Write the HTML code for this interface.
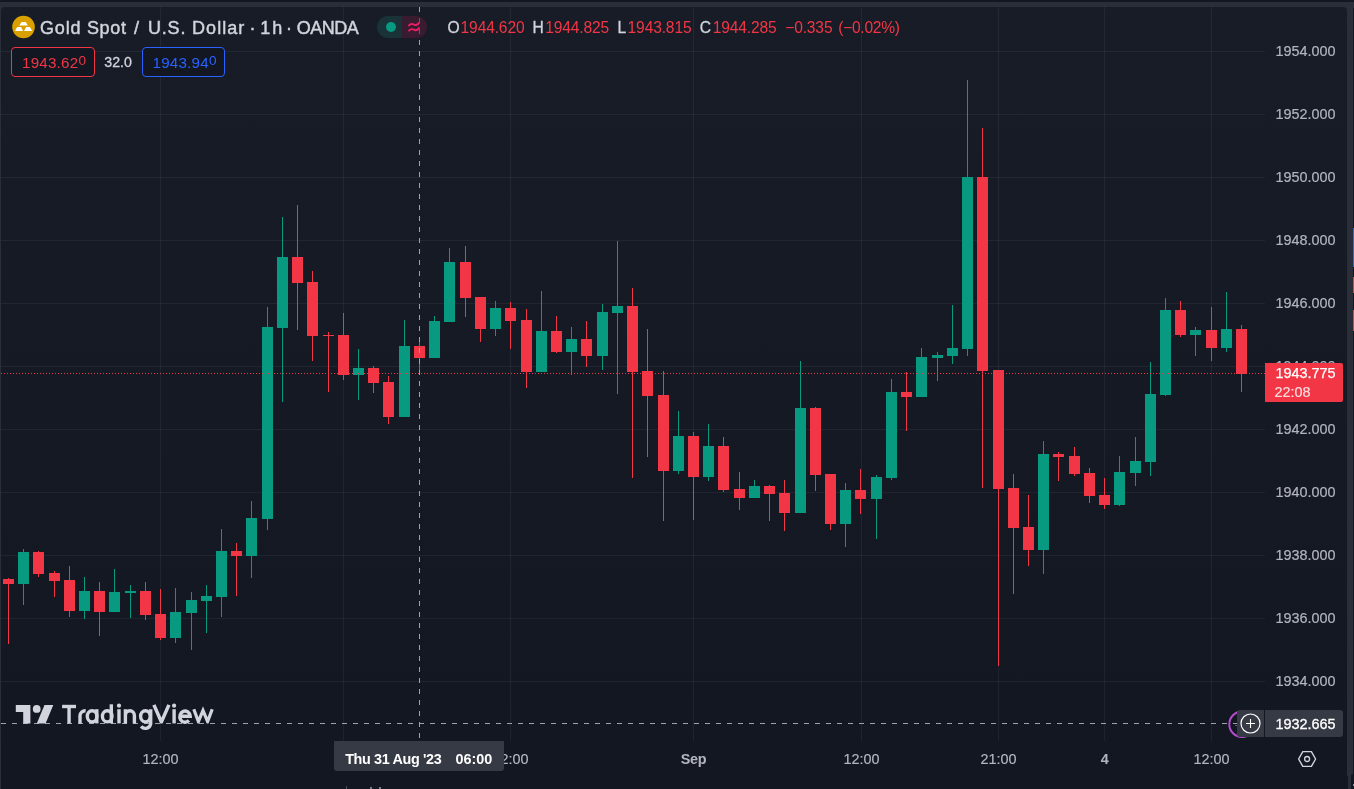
<!DOCTYPE html>
<html><head><meta charset="utf-8"><title>XAUUSD</title>
<style>
html,body{margin:0;padding:0}
body{width:1354px;height:789px;overflow:hidden;position:relative;background:#2a2e39;font-family:"Liberation Sans",sans-serif;}
.abs{position:absolute}
#txt{position:absolute;left:0;top:0;width:1354px;height:789px;will-change:transform}
#topdark{left:0;top:0;width:1354px;height:2px;background:#131722}
#panel{left:1px;top:7px;width:1346px;height:790px;border-radius:4px 4px 0 0;background:linear-gradient(#181c27 0px,#131722 734px,#131722 100%);}
#rightcol{left:1353px;top:8px;width:1px;height:781px;background:#131722}
svg#chart{position:absolute;left:0;top:0;width:1354px;height:789px}
.pl{position:absolute;left:1275.6px;width:70px;height:18px;line-height:18px;font-size:14.4px;color:#b2b5be;white-space:nowrap;-webkit-text-stroke:0.2px #b2b5be}
.tl{position:absolute;top:749.6px;width:81px;height:18px;line-height:18px;text-align:center;font-size:14.4px;color:#b2b5be;white-space:nowrap;-webkit-text-stroke:0.2px #b2b5be}
.tl.b{font-weight:bold;-webkit-text-stroke:0;letter-spacing:-0.3px}

#title{position:absolute;left:0;top:0}
.tw{position:absolute;top:16.2px;height:24px;line-height:24px;font-size:18px;color:#d1d4dc;white-space:nowrap;-webkit-text-stroke:0.45px #d1d4dc}
#pillL{left:377px;top:16px;width:25px;height:22px;border-radius:11px 0 0 11px;background:linear-gradient(rgba(34,171,148,0.16),rgba(34,171,148,0.16)),rgba(24,28,39,0.5)}
#pillR{left:402px;top:16px;width:25px;height:22px;border-radius:0 11px 11px 0;background:linear-gradient(rgba(233,30,99,0.16),rgba(233,30,99,0.16)),rgba(24,28,39,0.5)}
#dot{left:386px;top:22px;width:10px;height:10px;border-radius:5px;background:#089981}
#ohlc span{position:absolute;top:18.4px;height:20px;line-height:20px;font-size:15.6px;letter-spacing:-0.15px;white-space:nowrap}
#ohlc .k{color:#d1d4dc;-webkit-text-stroke:0.3px #d1d4dc}
#ohlc .v{color:#f23645}
.box{width:82px;height:28px;box-sizing:content-box;border:1px solid;border-radius:4px;background:#131722;}
.bt{position:absolute;top:4.8px;height:20px;line-height:20px;font-size:15.2px;letter-spacing:0.2px;white-space:nowrap}
.bt sup{font-size:13.6px;vertical-align:baseline;position:relative;top:-2.6px;letter-spacing:0;margin-left:0.3px}
#spread{left:104.3px;top:52px;width:30px;height:20px;line-height:20px;font-size:14.2px;color:#d1d4dc;white-space:nowrap;-webkit-text-stroke:0.3px #d1d4dc}

#curp{left:1265px;top:363px;width:78px;height:39px;background:#f23645;border-radius:0 2px 2px 0;color:#fff;font-size:14.4px;white-space:nowrap}
#curp .l1{position:absolute;left:10.4px;top:1.4px;height:18px;line-height:18px;-webkit-text-stroke:0.25px #fff}
#curp .l2{position:absolute;left:9.6px;top:19.6px;height:18px;line-height:18px;color:rgba(255,255,255,0.82);-webkit-text-stroke:0.15px rgba(255,255,255,0.8)}
#plusb{left:1237px;top:710px;width:27px;height:27px;background:#363a45;border-radius:3px 0 0 3px}
#chp{left:1265px;top:710px;width:78px;height:27px;background:#363a45;border-radius:0 3px 3px 0;color:#fff;font-size:14.4px;white-space:nowrap}
#chp span{position:absolute;left:10.6px;top:4.6px;height:18px;line-height:18px;-webkit-text-stroke:0.3px #fff}
#tlab{left:334px;top:741px;width:170px;height:30px;background:#363a45;border-radius:0 0 3px 3px;color:#fff;font-size:14.4px;font-weight:bold;white-space:nowrap}
#tlab span{position:absolute;top:8.6px;height:18px;line-height:18px}
#tlab .d{left:11.2px;letter-spacing:-0.36px}
#tlab .t{left:121.5px}
</style></head><body>
<div class="abs" id="topdark"></div>
<div class="abs" id="panel"></div>
<div class="abs" id="rightcol"></div>
<div id="txt">
<svg id="chart" viewBox="0 0 1354 789" shape-rendering="crispEdges">
<rect x="1" y="51" width="1264" height="1" fill="rgba(240,243,250,0.06)"/>
<rect x="1" y="114" width="1264" height="1" fill="rgba(240,243,250,0.06)"/>
<rect x="1" y="177" width="1264" height="1" fill="rgba(240,243,250,0.06)"/>
<rect x="1" y="240" width="1264" height="1" fill="rgba(240,243,250,0.06)"/>
<rect x="1" y="303" width="1264" height="1" fill="rgba(240,243,250,0.06)"/>
<rect x="1" y="366" width="1264" height="1" fill="rgba(240,243,250,0.06)"/>
<rect x="1" y="429" width="1264" height="1" fill="rgba(240,243,250,0.06)"/>
<rect x="1" y="492" width="1264" height="1" fill="rgba(240,243,250,0.06)"/>
<rect x="1" y="555" width="1264" height="1" fill="rgba(240,243,250,0.06)"/>
<rect x="1" y="618" width="1264" height="1" fill="rgba(240,243,250,0.06)"/>
<rect x="1" y="681" width="1264" height="1" fill="rgba(240,243,250,0.06)"/>
<rect x="160" y="7" width="1" height="734" fill="rgba(240,243,250,0.06)"/>
<rect x="343" y="7" width="1" height="734" fill="rgba(240,243,250,0.06)"/>
<rect x="510" y="7" width="1" height="734" fill="rgba(240,243,250,0.06)"/>
<rect x="693" y="7" width="1" height="734" fill="rgba(240,243,250,0.06)"/>
<rect x="861" y="7" width="1" height="734" fill="rgba(240,243,250,0.06)"/>
<rect x="998" y="7" width="1" height="734" fill="rgba(240,243,250,0.06)"/>
<rect x="1104" y="7" width="1" height="734" fill="rgba(240,243,250,0.06)"/>
<rect x="1211" y="7" width="1" height="734" fill="rgba(240,243,250,0.06)"/>
<rect x="8" y="578" width="1" height="66" fill="#f23645"/>
<rect x="3" y="579" width="11" height="5" fill="#f23645"/>
<rect x="23" y="549" width="1" height="56" fill="#089981"/>
<rect x="18" y="552" width="11" height="32" fill="#089981"/>
<rect x="38" y="551" width="1" height="26" fill="#f23645"/>
<rect x="33" y="552" width="11" height="22" fill="#f23645"/>
<rect x="54" y="571" width="1" height="26" fill="#f23645"/>
<rect x="49" y="573" width="11" height="8" fill="#f23645"/>
<rect x="69" y="566" width="1" height="51" fill="#f23645"/>
<rect x="64" y="580" width="11" height="31" fill="#f23645"/>
<rect x="84" y="577" width="1" height="42" fill="#089981"/>
<rect x="79" y="591" width="11" height="20" fill="#089981"/>
<rect x="99" y="582" width="1" height="54" fill="#f23645"/>
<rect x="94" y="591" width="11" height="21" fill="#f23645"/>
<rect x="114" y="569" width="1" height="43" fill="#089981"/>
<rect x="109" y="592" width="11" height="20" fill="#089981"/>
<rect x="130" y="585" width="1" height="33" fill="#089981"/>
<rect x="125" y="591" width="11" height="2" fill="#089981"/>
<rect x="145" y="582" width="1" height="38" fill="#f23645"/>
<rect x="140" y="591" width="11" height="24" fill="#f23645"/>
<rect x="160" y="589" width="1" height="51" fill="#f23645"/>
<rect x="155" y="614" width="11" height="24" fill="#f23645"/>
<rect x="175" y="588" width="1" height="55" fill="#089981"/>
<rect x="170" y="612" width="11" height="26" fill="#089981"/>
<rect x="191" y="592" width="1" height="58" fill="#089981"/>
<rect x="186" y="600" width="11" height="13" fill="#089981"/>
<rect x="206" y="585" width="1" height="48" fill="#089981"/>
<rect x="201" y="596" width="11" height="5" fill="#089981"/>
<rect x="221" y="529" width="1" height="88" fill="#089981"/>
<rect x="216" y="551" width="11" height="46" fill="#089981"/>
<rect x="236" y="543" width="1" height="53" fill="#f23645"/>
<rect x="231" y="551" width="11" height="5" fill="#f23645"/>
<rect x="251" y="501" width="1" height="77" fill="#089981"/>
<rect x="246" y="518" width="11" height="38" fill="#089981"/>
<rect x="267" y="307" width="1" height="223" fill="#089981"/>
<rect x="262" y="327" width="11" height="192" fill="#089981"/>
<rect x="282" y="217" width="1" height="185" fill="#089981"/>
<rect x="277" y="257" width="11" height="71" fill="#089981"/>
<rect x="297" y="205" width="1" height="125" fill="#f23645"/>
<rect x="292" y="257" width="11" height="26" fill="#f23645"/>
<rect x="312" y="271" width="1" height="90" fill="#f23645"/>
<rect x="307" y="282" width="11" height="54" fill="#f23645"/>
<rect x="328" y="332" width="1" height="60" fill="#f23645"/>
<rect x="323" y="335" width="11" height="1" fill="#f23645"/>
<rect x="343" y="313" width="1" height="67" fill="#f23645"/>
<rect x="338" y="335" width="11" height="40" fill="#f23645"/>
<rect x="358" y="349" width="1" height="51" fill="#089981"/>
<rect x="353" y="368" width="11" height="7" fill="#089981"/>
<rect x="373" y="366" width="1" height="27" fill="#f23645"/>
<rect x="368" y="368" width="11" height="15" fill="#f23645"/>
<rect x="388" y="376" width="1" height="48" fill="#f23645"/>
<rect x="383" y="382" width="11" height="35" fill="#f23645"/>
<rect x="404" y="320" width="1" height="97" fill="#089981"/>
<rect x="399" y="346" width="11" height="71" fill="#089981"/>
<rect x="419" y="342" width="1" height="33" fill="#f23645"/>
<rect x="414" y="346" width="11" height="12" fill="#f23645"/>
<rect x="434" y="316" width="1" height="42" fill="#089981"/>
<rect x="429" y="321" width="11" height="37" fill="#089981"/>
<rect x="449" y="248" width="1" height="74" fill="#089981"/>
<rect x="444" y="262" width="11" height="60" fill="#089981"/>
<rect x="465" y="246" width="1" height="71" fill="#f23645"/>
<rect x="460" y="262" width="11" height="36" fill="#f23645"/>
<rect x="480" y="297" width="1" height="45" fill="#f23645"/>
<rect x="475" y="297" width="11" height="32" fill="#f23645"/>
<rect x="495" y="301" width="1" height="35" fill="#089981"/>
<rect x="490" y="308" width="11" height="21" fill="#089981"/>
<rect x="510" y="302" width="1" height="47" fill="#f23645"/>
<rect x="505" y="308" width="11" height="13" fill="#f23645"/>
<rect x="526" y="309" width="1" height="79" fill="#f23645"/>
<rect x="521" y="320" width="11" height="52" fill="#f23645"/>
<rect x="541" y="291" width="1" height="81" fill="#089981"/>
<rect x="536" y="331" width="11" height="41" fill="#089981"/>
<rect x="556" y="316" width="1" height="37" fill="#f23645"/>
<rect x="551" y="331" width="11" height="21" fill="#f23645"/>
<rect x="571" y="327" width="1" height="48" fill="#089981"/>
<rect x="566" y="339" width="11" height="13" fill="#089981"/>
<rect x="586" y="321" width="1" height="46" fill="#f23645"/>
<rect x="581" y="339" width="11" height="17" fill="#f23645"/>
<rect x="602" y="304" width="1" height="66" fill="#089981"/>
<rect x="597" y="312" width="11" height="44" fill="#089981"/>
<rect x="617" y="241" width="1" height="153" fill="#089981"/>
<rect x="612" y="306" width="11" height="7" fill="#089981"/>
<rect x="632" y="288" width="1" height="190" fill="#f23645"/>
<rect x="627" y="306" width="11" height="66" fill="#f23645"/>
<rect x="647" y="329" width="1" height="128" fill="#f23645"/>
<rect x="642" y="371" width="11" height="25" fill="#f23645"/>
<rect x="663" y="371" width="1" height="150" fill="#f23645"/>
<rect x="658" y="395" width="11" height="76" fill="#f23645"/>
<rect x="678" y="411" width="1" height="63" fill="#089981"/>
<rect x="673" y="436" width="11" height="35" fill="#089981"/>
<rect x="693" y="432" width="1" height="88" fill="#f23645"/>
<rect x="688" y="436" width="11" height="41" fill="#f23645"/>
<rect x="708" y="424" width="1" height="57" fill="#089981"/>
<rect x="703" y="446" width="11" height="31" fill="#089981"/>
<rect x="723" y="437" width="1" height="55" fill="#f23645"/>
<rect x="718" y="446" width="11" height="44" fill="#f23645"/>
<rect x="739" y="472" width="1" height="38" fill="#f23645"/>
<rect x="734" y="489" width="11" height="9" fill="#f23645"/>
<rect x="754" y="480" width="1" height="18" fill="#089981"/>
<rect x="749" y="486" width="11" height="12" fill="#089981"/>
<rect x="769" y="485" width="1" height="36" fill="#f23645"/>
<rect x="764" y="486" width="11" height="8" fill="#f23645"/>
<rect x="784" y="480" width="1" height="51" fill="#f23645"/>
<rect x="779" y="493" width="11" height="20" fill="#f23645"/>
<rect x="800" y="361" width="1" height="152" fill="#089981"/>
<rect x="795" y="408" width="11" height="105" fill="#089981"/>
<rect x="815" y="407" width="1" height="84" fill="#f23645"/>
<rect x="810" y="408" width="11" height="67" fill="#f23645"/>
<rect x="830" y="474" width="1" height="56" fill="#f23645"/>
<rect x="825" y="474" width="11" height="50" fill="#f23645"/>
<rect x="845" y="483" width="1" height="64" fill="#089981"/>
<rect x="840" y="490" width="11" height="34" fill="#089981"/>
<rect x="860" y="469" width="1" height="45" fill="#f23645"/>
<rect x="855" y="490" width="11" height="9" fill="#f23645"/>
<rect x="876" y="475" width="1" height="64" fill="#089981"/>
<rect x="871" y="477" width="11" height="22" fill="#089981"/>
<rect x="891" y="379" width="1" height="101" fill="#089981"/>
<rect x="886" y="392" width="11" height="86" fill="#089981"/>
<rect x="906" y="372" width="1" height="59" fill="#f23645"/>
<rect x="901" y="392" width="11" height="5" fill="#f23645"/>
<rect x="921" y="348" width="1" height="49" fill="#089981"/>
<rect x="916" y="357" width="11" height="40" fill="#089981"/>
<rect x="937" y="352" width="1" height="29" fill="#089981"/>
<rect x="932" y="355" width="11" height="3" fill="#089981"/>
<rect x="952" y="305" width="1" height="59" fill="#089981"/>
<rect x="947" y="348" width="11" height="8" fill="#089981"/>
<rect x="967" y="80" width="1" height="276" fill="#089981"/>
<rect x="962" y="177" width="11" height="172" fill="#089981"/>
<rect x="982" y="128" width="1" height="360" fill="#f23645"/>
<rect x="977" y="177" width="11" height="194" fill="#f23645"/>
<rect x="998" y="370" width="1" height="296" fill="#f23645"/>
<rect x="993" y="370" width="11" height="119" fill="#f23645"/>
<rect x="1013" y="474" width="1" height="120" fill="#f23645"/>
<rect x="1008" y="488" width="11" height="40" fill="#f23645"/>
<rect x="1028" y="495" width="1" height="71" fill="#f23645"/>
<rect x="1023" y="527" width="11" height="23" fill="#f23645"/>
<rect x="1043" y="441" width="1" height="133" fill="#089981"/>
<rect x="1038" y="454" width="11" height="96" fill="#089981"/>
<rect x="1058" y="452" width="1" height="29" fill="#f23645"/>
<rect x="1053" y="454" width="11" height="3" fill="#f23645"/>
<rect x="1074" y="447" width="1" height="29" fill="#f23645"/>
<rect x="1069" y="456" width="11" height="18" fill="#f23645"/>
<rect x="1089" y="468" width="1" height="35" fill="#f23645"/>
<rect x="1084" y="473" width="11" height="23" fill="#f23645"/>
<rect x="1104" y="478" width="1" height="31" fill="#f23645"/>
<rect x="1099" y="495" width="11" height="10" fill="#f23645"/>
<rect x="1119" y="456" width="1" height="50" fill="#089981"/>
<rect x="1114" y="472" width="11" height="33" fill="#089981"/>
<rect x="1135" y="437" width="1" height="49" fill="#089981"/>
<rect x="1130" y="461" width="11" height="12" fill="#089981"/>
<rect x="1150" y="362" width="1" height="114" fill="#089981"/>
<rect x="1145" y="394" width="11" height="68" fill="#089981"/>
<rect x="1165" y="298" width="1" height="98" fill="#089981"/>
<rect x="1160" y="310" width="11" height="85" fill="#089981"/>
<rect x="1180" y="301" width="1" height="36" fill="#f23645"/>
<rect x="1175" y="310" width="11" height="25" fill="#f23645"/>
<rect x="1195" y="327" width="1" height="29" fill="#089981"/>
<rect x="1190" y="330" width="11" height="5" fill="#089981"/>
<rect x="1211" y="307" width="1" height="54" fill="#f23645"/>
<rect x="1206" y="330" width="11" height="18" fill="#f23645"/>
<rect x="1226" y="292" width="1" height="60" fill="#089981"/>
<rect x="1221" y="329" width="11" height="19" fill="#089981"/>
<rect x="1241" y="325" width="1" height="67" fill="#f23645"/>
<rect x="1236" y="329" width="11" height="45" fill="#f23645"/>
<line x1="1" y1="373.5" x2="1265" y2="373.5" stroke="#f23645" stroke-width="1" stroke-dasharray="1 2"/>
<line x1="419.5" y1="7" x2="419.5" y2="741" stroke="#9fa2ab" stroke-width="1" stroke-dasharray="5 6"/>
<line x1="1" y1="723.5" x2="1237" y2="723.5" stroke="#9fa2ab" stroke-width="1" stroke-dasharray="5 6"/>
</svg>
<div class="pl" style="top:42px">1954.000</div>
<div class="pl" style="top:105px">1952.000</div>
<div class="pl" style="top:168px">1950.000</div>
<div class="pl" style="top:231px">1948.000</div>
<div class="pl" style="top:294px">1946.000</div>
<div class="pl" style="top:357px">1944.000</div>
<div class="pl" style="top:420px">1942.000</div>
<div class="pl" style="top:483px">1940.000</div>
<div class="pl" style="top:546px">1938.000</div>
<div class="pl" style="top:609px">1936.000</div>
<div class="pl" style="top:672px">1934.000</div>

<div class="tl" style="left:120px">12:00</div>
<div class="tl" style="left:470px">12:00</div>
<div class="tl b" style="left:653px">Sep</div>
<div class="tl" style="left:821px">12:00</div>
<div class="tl" style="left:958px">21:00</div>
<div class="tl b" style="left:1064px">4</div>
<div class="tl" style="left:1171px">12:00</div>


<svg class="abs" style="left:11px;top:15px" width="25" height="25" viewBox="0 0 25 25">
<circle cx="12.5" cy="12" r="11.3" fill="#d9a000"/>
<path d="M10.5 7 L14.8 7 L16.8 10.6 L8.3 10.6 Z M6.2 12.1 L10 12.1 L12.1 15.9 L4 15.9 Z M15.1 12.1 L18.9 12.1 L21.2 15.9 L13.1 15.9 Z" fill="#fff"/>
</svg>
<div id="title"><span class="tw" style="left:40.0px;letter-spacing:0.83px">Gold</span><span class="tw" style="left:86.9px;letter-spacing:0.69px">Spot</span><span class="tw" style="left:133.9px;letter-spacing:0px">/</span><span class="tw" style="left:147.9px;letter-spacing:0.83px">U.S.</span><span class="tw" style="left:192.0px;letter-spacing:1.06px">Dollar</span><span class="tw" style="left:249.4px;letter-spacing:0px">·</span><span class="tw" style="left:260.2px;letter-spacing:1.99px">1h</span><span class="tw" style="left:285.9px;letter-spacing:0px">·</span><span class="tw" style="left:296.7px;letter-spacing:-0.5px">OANDA</span></div>
<div class="abs" id="pillL"></div><div class="abs" id="pillR"></div>
<div class="abs" id="dot"></div>
<svg class="abs" style="left:407px;top:21px" width="14" height="13" viewBox="0 0 14 13">
<path d="M2 4.4 C4.2 1.6 6.2 3.2 7.6 3.8 C9.2 4.4 10.6 3.9 12 1.9" stroke="#e91e63" stroke-width="1.9" fill="none" stroke-linecap="round"/>
<path d="M2 9.6 C4.2 6.8 6.2 8.4 7.6 9.0 C9.2 9.6 10.6 9.1 12 7.1" stroke="#e91e63" stroke-width="1.9" fill="none" stroke-linecap="round"/>
</svg>
<div id="ohlc">
<span class="k" style="left:447.4px">O</span><span class="v" style="left:460.6px">1944.620</span>
<span class="k" style="left:532.4px">H</span><span class="v" style="left:545.2px">1944.825</span>
<span class="k" style="left:617.4px">L</span><span class="v" style="left:627.6px">1943.815</span>
<span class="k" style="left:699.7px">C</span><span class="v" style="left:712.7px">1944.285</span>
<span class="v" style="left:785.2px">−0.335</span><span class="v" style="left:838.3px;letter-spacing:-0.3px">(−0.02%)</span>
</div>
<div class="abs box" style="left:11px;top:47px;border-color:#f23645;color:#f23645"><span class="bt" style="left:10px">1943.62<sup>0</sup></span></div>
<div class="abs" id="spread">32.0</div>
<div class="abs box" style="left:142px;top:47px;width:81px;border-color:#2962ff;color:#2962ff"><span class="bt" style="left:9.5px">1943.94<sup>0</sup></span></div>


<svg class="abs" style="left:0;top:0" width="1354" height="789" viewBox="0 0 1354 789">

<g fill="#d1d4dc">
<path d="M15.8 705 H30.4 V723.4 H23.2 V711.9 H15.8 Z"/>
<circle cx="36.7" cy="708.9" r="3.9"/>
<path d="M44.5 705 H53.3 L45.6 723.4 H36.8 Z"/>
</g>
<defs><clipPath id="bl"><rect x="0" y="700" width="300" height="23.5"/></clipPath></defs>
<g fill="none" stroke="#d1d4dc" stroke-width="3.4">
<path d="M62.1 706.5 H76"/>
<path d="M69.05 706 V723.4"/>
<path d="M80 723.4 V715.6 a5.2 5.2 0 0 1 5.6 -4.9"/>
<ellipse cx="92.1" cy="716.3" rx="4.8" ry="5.6"/>
<path d="M96.8 709.2 V723.4"/>
<ellipse cx="107.2" cy="716.3" rx="4.8" ry="5.6"/>
<path d="M111.3 704.3 V723.4"/>
<path d="M119 709.2 V723.4"/>
<path d="M125.4 709.2 V723.4 M125.4 715.6 a4.5 4.8 0 0 1 9 0 V723.4"/>
<ellipse cx="145.4" cy="716.3" rx="4.8" ry="5.6"/>
<path d="M150.7 709.2 V723.2 a5.4 5.2 0 0 1 -9.6 3.2"/>
<path d="M153.9 704.9 L161.4 722.0 L168.9 704.9" stroke-width="3.5" stroke-linejoin="miter" clip-path="url(#bl)" stroke-miterlimit="10"/>
<path d="M174.1 709.2 V723.4"/>
<path d="M180.2 716.2 H190.2 a5.2 5.6 0 1 0 -1.3 4.2"/>
<path d="M193.8 709.2 L198.4 721.6 L203 710.4 L207.6 721.6 L212.2 709.2" stroke-linejoin="miter" stroke-width="3.2" clip-path="url(#bl)" stroke-miterlimit="10"/>
</g>
<circle cx="119" cy="705.7" r="2.1" fill="#d1d4dc"/>
<circle cx="174.1" cy="705.7" r="2.1" fill="#d1d4dc"/>

<!-- purple ring -->
<circle cx="1242" cy="724.3" r="12.7" fill="none" stroke="#b84cd0" stroke-width="2"/>
<rect x="1235" y="725" width="2" height="1" fill="#8a3f9c"/>
<!-- hex settings -->
<path d="M1298.6 759 L1302.8 751.6 H1311.4 L1315.6 759 L1311.4 766.4 H1302.8 Z" fill="none" stroke="#d1d4dc" stroke-width="1.4" stroke-linejoin="round"/>
<circle cx="1307.1" cy="759" r="2.5" fill="none" stroke="#d1d4dc" stroke-width="1.3"/>
</svg>
<div class="abs" id="curp"><div class="l1">1943.775</div><div class="l2">22:08</div></div>
<div class="abs" id="plusb"></div>
<svg class="abs" style="left:1237px;top:710px" width="27" height="27" viewBox="0 0 27 27">
<circle cx="13.5" cy="13.5" r="9.5" fill="none" stroke="#fff" stroke-width="1.2"/>
<path d="M9 13.5 H18 M13.5 9 V18" stroke="#fff" stroke-width="1.1" fill="none"/>
</svg>
<div class="abs" id="chp"><span>1932.665</span></div>
<div class="abs" id="tlab"><span class="d">Thu 31 Aug '23</span><span class="t">06:00</span></div>
<div class="abs" style="left:1353px;top:228px;width:1px;height:39px;background:#2962ff"></div>
<div class="abs" style="left:1353px;top:277px;width:1px;height:16px;background:#d9414f"></div>
<div class="abs" style="left:1353px;top:310px;width:1px;height:21px;background:#d9414f"></div>
<div class="abs" style="left:1347px;top:776px;width:1px;height:13px;background:#131722"></div>
<div class="abs" style="left:1351px;top:774px;width:3px;height:15px;background:#131722;border-radius:2px 0 0 0"></div>
<div class="abs" style="left:1353px;top:784px;width:1px;height:2px;background:#8a929e"></div>
<div class="abs" style="left:346px;top:786px;width:1px;height:3px;background:#50535e"></div>
<div class="abs" style="left:370px;top:787px;width:2px;height:2px;background:#787b86"></div>
<div class="abs" style="left:379px;top:787px;width:2px;height:2px;background:#787b86"></div>

</div>
</body></html>
